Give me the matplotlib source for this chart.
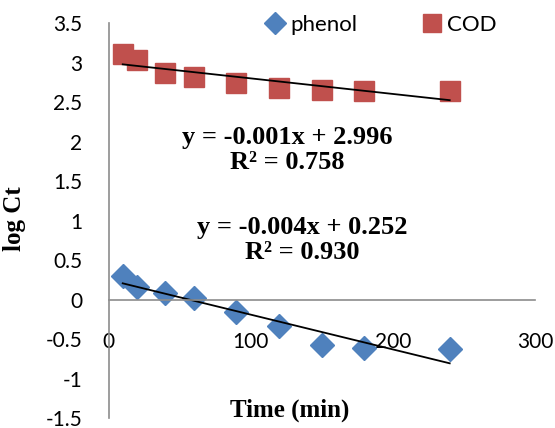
import matplotlib.pyplot as plt
import numpy as np

# time (min)
t = [10, 20, 40, 60, 90, 120, 150, 180, 240]
# log Ct values
phenol = [0.30, 0.16, 0.08, 0.015, -0.155, -0.34, -0.58, -0.61, -0.63]
cod = [3.11, 3.04, 2.87, 2.82, 2.74, 2.68, 2.66, 2.64, 2.64]

eq_cod = ['y = -0.001x + 2.996', 'R² = 0.758']
eq_phenol = ['y = -0.004x + 0.252', 'R² = 0.930']

blue = '#4F81BD'
red = '#C0504D'
axis_grey = '#8C8C8C'

plt.rcParams['font.family'] = ['Lato', 'DejaVu Sans']

fig = plt.figure(figsize=(5.55, 4.28), dpi=100)
ax = fig.add_axes([0.1955, 0.0234, 0.7685, 0.9222])

ax.plot(t, phenol, linestyle='none', marker='D', markersize=12.5, color=blue, label='phenol')
ax.plot(t, cod, linestyle='none', marker='s', markersize=14, color=red, label='COD')

# linear trend lines
x = np.array(t, dtype=float)
for series in (phenol, cod):
    k, b = np.polyfit(x, series, 1)
    ax.plot([x[0], x[-1]], [k * x[0] + b, k * x[-1] + b], color='black', lw=1.3)

ax.set_xlim(0, 300)
ax.set_ylim(-1.5, 3.5)
ax.set_xticks([0, 100, 200, 300])
ax.set_yticks(np.arange(-1.5, 3.51, 0.5))
ax.set_yticklabels(['-1.5', '-1', '-0.5', '0', '0.5', '1', '1.5', '2', '2.5', '3', '3.5'])

ax.spines['top'].set_visible(False)
ax.spines['right'].set_visible(False)
ax.spines['bottom'].set_position(('data', 0))
for s in ('left', 'bottom'):
    ax.spines[s].set_color(axis_grey)
    ax.spines[s].set_linewidth(1.2)
ax.tick_params(axis='both', length=0, labelsize=15)
ax.tick_params(axis='y', pad=19)
ax.tick_params(axis='x', pad=23)
ax.patch.set_alpha(0)

tfont = dict(family='Liberation Serif', weight='bold', fontsize=19, ha='center', va='center')
ax.text(125.6, 1.895, eq_cod[0] + '\n' + eq_cod[1], linespacing=1.1, **tfont)
ax.text(136, 0.754, eq_phenol[0] + '\n' + eq_phenol[1], linespacing=1.1, **tfont)

fig.text(15 / 555, 1 - 219 / 428, 'log Ct', rotation=90, family='Liberation Serif',
         weight='bold', fontsize=18, ha='center', va='center')
fig.text(290 / 555, 1 - 410 / 428, 'Time (min)', family='Liberation Serif',
         weight='bold', fontsize=18, ha='center', va='center')

ax.legend(loc='center', bbox_to_anchor=(0.641, 0.996), ncol=2, frameon=False,
          fontsize=16, handlelength=0.7, handletextpad=0.35, columnspacing=3.0,
          markerscale=0.9, borderpad=0, borderaxespad=0)

plt.savefig('out.png', dpi=100)
